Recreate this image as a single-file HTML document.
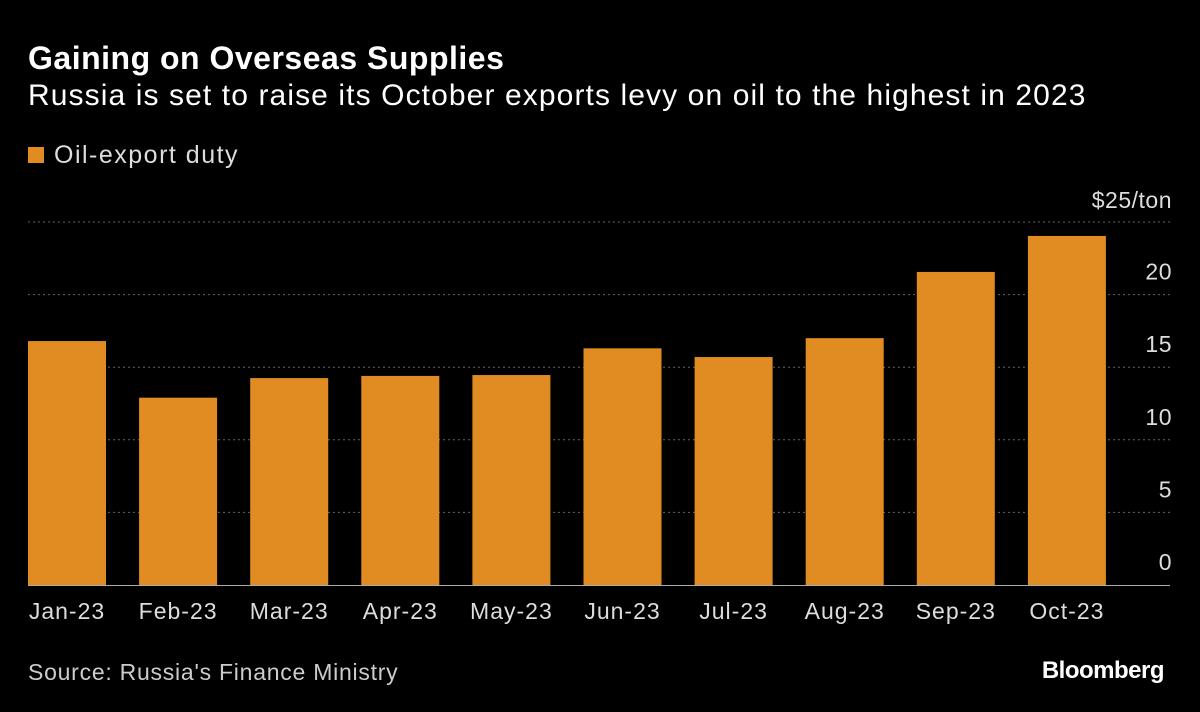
<!DOCTYPE html>
<html><head><meta charset="utf-8"><style>
html,body{margin:0;padding:0;background:#000;width:1200px;height:712px;overflow:hidden;font-family:"Liberation Sans",sans-serif;color:#fff}
.t{position:absolute;white-space:nowrap}
</style></head><body>
<div class="t" style="left:28px;top:40px;font-size:32px;font-weight:bold;letter-spacing:0.5px">Gaining on Overseas Supplies</div>
<div class="t" style="left:28px;top:79px;font-size:30px;letter-spacing:1.1px">Russia is set to raise its October exports levy on oil to the highest in 2023</div>
<div class="t" style="left:28px;top:141px;font-size:25px;color:#ddd;letter-spacing:1.5px"><span style="display:inline-block;width:16px;height:16px;background:#e08c22;margin-right:10px;vertical-align:0px"></span>Oil-export duty</div>
<div class="t" style="left:28px;top:659px;font-size:23px;color:#ccc;letter-spacing:0.75px">Source: Russia's Finance Ministry</div>
<div class="t" style="right:36px;top:657px;font-size:24px;font-weight:bold;letter-spacing:-0.5px">Bloomberg</div>
<svg id="chart" width="1200" height="712" style="position:absolute;left:0;top:0"></svg>
<script>
const categories=["Jan-23","Feb-23","Mar-23","Apr-23","May-23","Jun-23","Jul-23","Aug-23","Sep-23","Oct-23"];
const values=[16.8,12.9,14.25,14.4,14.46,16.3,15.7,17.0,21.56,24.04];
const ticks=[0,5,10,15,20,25];
const tickLabels=["0","5","10","15","20","$25/ton"];
const NS="http://www.w3.org/2000/svg";
const svg=document.getElementById('chart');
const y0=585,pxPerUnit=14.52,x0=28,step=111.1,bw=78;
const y=v=>y0-v*pxPerUnit;
const x=i=>x0+i*step;
function mk(tag,attrs){const e=document.createElementNS(NS,tag);for(const k in attrs)e.setAttribute(k,attrs[k]);svg.appendChild(e);return e;}
ticks.forEach((t,i)=>{
  if(t>0){const l=mk('line',{x1:28,x2:1170,y1:y(t),y2:y(t),stroke:'#666','stroke-width':1,'stroke-dasharray':'2,3'});
  
  }
  const tx=mk('text',{x:1172,y:t===25?y(t)-14:y(t)-15,'text-anchor':'end','font-size':23,fill:'#ddd','letter-spacing':'0.5','font-family':'Liberation Sans, sans-serif'});
  tx.textContent=tickLabels[i];
  
  
});
values.forEach((v,i)=>{
  const r=mk('rect',{x:x(i),y:y(v),width:bw,height:y0-y(v),fill:'#e08c22'});
  
  
  const tx=mk('text',{x:x(i)+bw/2,y:619,'text-anchor':'middle','font-size':23,fill:'#ddd','letter-spacing':'1','font-family':'Liberation Sans, sans-serif'});
  tx.textContent=categories[i];
  
  
});
const ax=mk('line',{x1:28,x2:1170,y1:y0+0.5,y2:y0+0.5,stroke:'#aaa','stroke-width':1});


</script>
</body></html>
